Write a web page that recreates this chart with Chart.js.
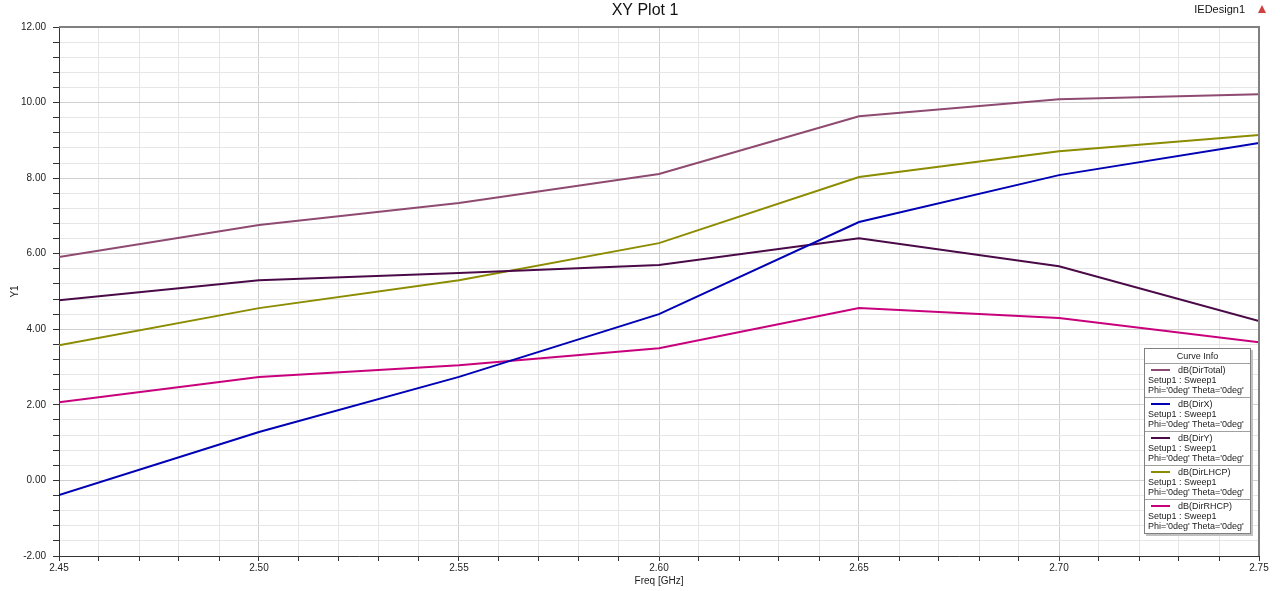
<!DOCTYPE html>
<html>
<head>
<meta charset="utf-8">
<script src="https://cdn.jsdelivr.net/npm/chart.js@4"></script>
<style>
  html, body { margin: 0; padding: 0; background: #fff; }
  #wrap { position: relative; width: 1280px; height: 591px; font-family: "Liberation Sans", Arial, sans-serif; }
  #legend { position: absolute; left: 1144px; top: 348px; width: 105px; border: 1px solid #808080;
            background: #fff; box-shadow: 2px 2px 0 #c0c0c0; font-size: 9px; color: #222; }
  #legend .head { text-align: center; height: 14px; line-height: 14px; border-bottom: 1px solid #a0a0a0; }
  #legend .item { padding: 1px 2px 2px 3px; border-bottom: 1px solid #a0a0a0; height: 30px; }
  #legend .item:last-child { border-bottom: none; }
  #legend .name { height: 10px; line-height: 10px; display: flex; align-items: center; }
  #legend .sw { display: inline-block; width: 19px; height: 2px; margin: 0 8px 0 3px; }
  #legend .sub { height: 10px; line-height: 10px; white-space: nowrap; }
</style>
</head>
<body>
<div id="wrap">
  <canvas id="plot" width="1280" height="591"></canvas>
  <div id="legend"></div>
</div>
<script>
// Fréquences (GHz) et directivités (dB)
const freq = [2.45, 2.50, 2.55, 2.60, 2.65, 2.70, 2.75];
const dirTotal = [5.91, 6.76, 7.34, 8.11, 9.64, 10.09, 10.22];
const dirX     = [-0.39, 1.28, 2.74, 4.40, 6.84, 8.08, 8.93];
const dirY     = [4.77, 5.30, 5.49, 5.70, 6.41, 5.67, 4.22];
const dirLHCP  = [3.58, 4.56, 5.30, 6.28, 8.03, 8.71, 9.14];
const dirRHCP  = [2.07, 2.74, 3.05, 3.50, 4.56, 4.30, 3.66];

const seriesNames = ['dB(DirTotal)', 'dB(DirX)', 'dB(DirY)', 'dB(DirLHCP)', 'dB(DirRHCP)'];
const seriesData = [dirTotal, dirX, dirY, dirLHCP, dirRHCP];
const seriesColors = ['#8e4a70', '#0000b4', '#4a0a48', '#8c8c00', '#c8007c'];

// Graduations
const xMin = 2.45, xMax = 2.75, xMinorStep = 0.01;
const yMin = -2, yMax = 12, yMinorStep = 0.4;

function buildLegend() {
    const el = document.getElementById('legend');
    let html = '<div class="head">Curve Info</div>';
    seriesNames.forEach((n, i) => {
        html += '<div class="item">' +
            '<div class="name"><span class="sw" style="background:' + seriesColors[i] + '"></span>' + n + '</div>' +
            '<div class="sub">Setup1 : Sweep1</div>' +
            '<div class="sub">Phi=\'0deg\' Theta=\'0deg\'</div>' +
            '</div>';
    });
    el.innerHTML = html;
}

// Titre, nom du design et petit triangle
const headerPlugin = {
    id: 'header',
    afterDraw(chart) {
        const c = chart.ctx;
        c.save();
        c.fillStyle = '#111';
        c.font = '16px "Liberation Sans", Arial';
        c.textAlign = 'center';
        c.textBaseline = 'middle';
        c.fillText('XY Plot 1', 645, 11);
        c.font = '11px "Liberation Sans", Arial';
        c.textAlign = 'right';
        c.fillText('IEDesign1', 1245, 10);
        c.fillStyle = '#d04040';
        c.beginPath();
        c.moveTo(1262, 5); c.lineTo(1266, 13); c.lineTo(1258, 13); c.closePath();
        c.fill();
        c.restore();
    }
};

function renderChart() {
    buildLegend();
    new Chart(document.getElementById('plot'), {
        type: 'line',
        data: {
            datasets: seriesNames.map((n, i) => ({
                label: n,
                data: freq.map((f, k) => ({ x: f, y: seriesData[i][k] })),
                borderColor: seriesColors[i],
                backgroundColor: 'transparent',
                borderWidth: 2,
                tension: 0,
                pointRadius: 0
            }))
        },
        options: {
            responsive: false,
            animation: false,
            layout: { padding: { top: 27, right: 21, left: 0, bottom: 0 } },
            plugins: {
                legend: { display: false },
                tooltip: { enabled: false }
            },
            scales: {
                x: {
                    type: 'linear',
                    min: xMin,
                    max: xMax,
                    afterBuildTicks: s => {
                        const t = [];
                        for (let i = 0; i <= Math.round((xMax - xMin) / xMinorStep); i++) t.push({ value: +(xMin + i * xMinorStep).toFixed(2) });
                        s.ticks = t;
                    },
                    afterFit: s => { s.height = 35; },
                    ticks: {
                        autoSkip: false,
                        maxRotation: 0,
                        padding: 1,
                        color: '#222',
                        font: { size: 10, family: '"Liberation Sans", Arial' },
                        callback: v => (Math.round(v * 100) % 5 === 0 ? v.toFixed(2) : '')
                    },
                    grid: {
                        color: c => (Math.round(c.tick.value * 100) % 5 === 0 ? '#d0d0d0' : '#e6e6e6'),
                        tickColor: '#333',
                        tickLength: 5
                    },
                    border: { color: '#333', width: 1 },
                    title: {
                        display: true,
                        text: 'Freq [GHz]',
                        color: '#222',
                        font: { size: 10, family: '"Liberation Sans", Arial' },
                        padding: { top: 0, bottom: 4 }
                    }
                },
                y: {
                    min: yMin,
                    max: yMax,
                    afterBuildTicks: s => {
                        const t = [];
                        for (let i = 0; i <= Math.round((yMax - yMin) / yMinorStep); i++) t.push({ value: +(yMin + i * yMinorStep).toFixed(1) });
                        s.ticks = t;
                    },
                    afterFit: s => { s.width = 59; },
                    ticks: {
                        autoSkip: false,
                        padding: 7,
                        color: '#222',
                        font: { size: 10, family: '"Liberation Sans", Arial' },
                        callback: v => (Math.round(v * 10) % 20 === 0 ? v.toFixed(2) : '')
                    },
                    grid: {
                        color: c => (Math.round(c.tick.value * 10) % 20 === 0 ? '#d0d0d0' : '#e6e6e6'),
                        tickColor: '#333',
                        tickLength: 6
                    },
                    border: { color: '#333', width: 1 },
                    title: {
                        display: true,
                        text: 'Y1',
                        color: '#222',
                        font: { size: 10, family: '"Liberation Sans", Arial' },
                        padding: { top: 9, bottom: 0 }
                    }
                }
            }
        },
        plugins: [headerPlugin, {
            id: 'frame',
            afterDraw(chart) {
                const a = chart.chartArea, c = chart.ctx;
                c.save();
                c.strokeStyle = '#808080';
                c.lineWidth = 2;
                c.beginPath();
                c.moveTo(a.left, a.top); c.lineTo(a.right, a.top); c.lineTo(a.right, a.bottom);
                c.stroke();
                c.restore();
            }
        }]
    });
}

document.addEventListener('DOMContentLoaded', renderChart);
</script>
</body>
</html>
